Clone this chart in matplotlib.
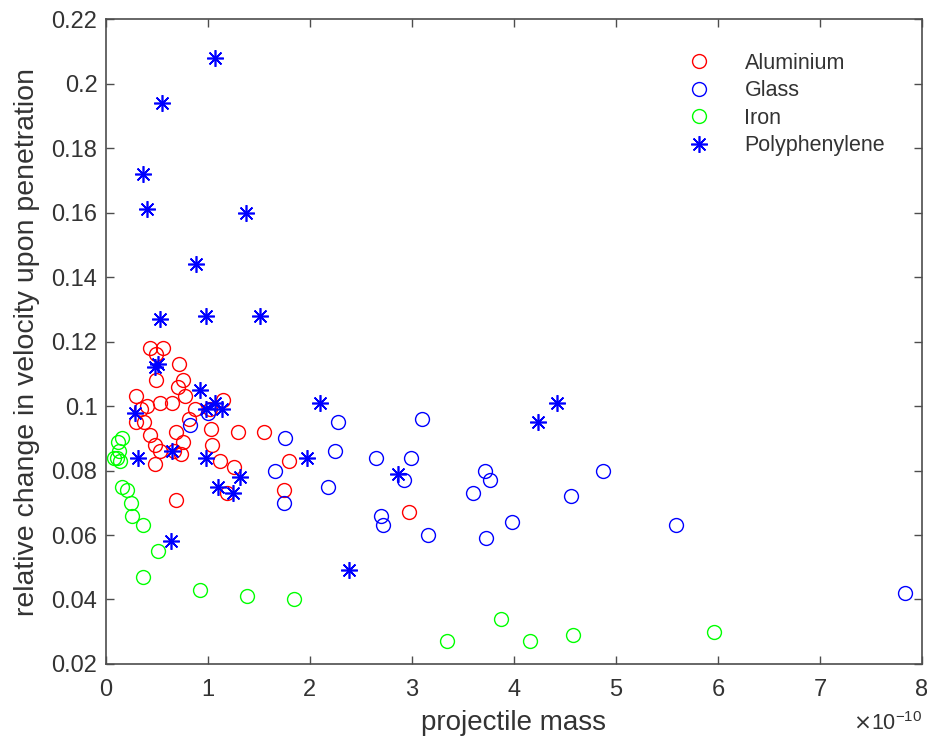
import numpy as np
import matplotlib.pyplot as plt

# projectile mass in units of 1e-10
al_mass = [0.43, 0.56, 0.49, 0.72, 0.49, 0.76, 0.71, 0.30, 0.78, 1.15, 0.53, 0.65, 0.40, 0.35,
           0.87, 1.02, 0.30, 0.37, 0.82, 0.43, 0.69, 1.03, 1.30, 1.55, 0.48, 0.76, 1.04, 0.53,
           0.67, 0.74, 0.48, 1.12, 1.26, 1.80, 0.69, 1.19, 1.75, 2.97]
al_dv = [0.118, 0.118, 0.116, 0.113, 0.108, 0.108, 0.106, 0.103, 0.103, 0.102, 0.101, 0.101,
         0.100, 0.099, 0.099, 0.099, 0.095, 0.095, 0.096, 0.091, 0.092, 0.093, 0.092, 0.092,
         0.088, 0.089, 0.088, 0.086, 0.086, 0.085, 0.082, 0.083, 0.081, 0.083, 0.071, 0.073,
         0.074, 0.067]

glass_mass = [0.83, 1.76, 1.66, 1.75, 2.18, 2.25, 2.28, 2.65, 2.70, 2.72, 2.92, 2.99, 3.10,
              3.16, 3.60, 3.72, 3.77, 3.73, 3.98, 4.56, 4.87, 5.59, 7.83, 1.00]
glass_dv = [0.094, 0.090, 0.080, 0.070, 0.075, 0.086, 0.095, 0.084, 0.066, 0.063, 0.077,
            0.084, 0.096, 0.060, 0.073, 0.080, 0.077, 0.059, 0.064, 0.072, 0.080, 0.063,
            0.042, 0.098]

iron_mass = [0.08, 0.11, 0.13, 0.16, 0.12, 0.14, 0.16, 0.21, 0.25, 0.26, 0.36, 0.51, 0.36,
             0.92, 1.38, 1.84, 3.34, 3.87, 4.16, 4.58, 5.96]
iron_dv = [0.084, 0.084, 0.086, 0.090, 0.089, 0.083, 0.075, 0.074, 0.070, 0.066, 0.063,
           0.055, 0.047, 0.043, 0.041, 0.040, 0.027, 0.034, 0.027, 0.029, 0.030]

poly_mass = [1.07, 0.55, 0.36, 0.40, 1.37, 0.88, 0.53, 0.98, 1.51, 0.48, 0.51, 0.92, 0.29,
             1.07, 1.14, 0.98, 2.10, 4.42, 4.24, 0.32, 0.65, 0.98, 1.97, 2.86, 1.32, 1.10,
             1.25, 0.64, 2.38]
poly_dv = [0.208, 0.194, 0.172, 0.161, 0.160, 0.144, 0.127, 0.128, 0.128, 0.112, 0.113,
           0.105, 0.098, 0.101, 0.099, 0.099, 0.101, 0.101, 0.095, 0.084, 0.086, 0.084,
           0.084, 0.079, 0.078, 0.075, 0.073, 0.058, 0.049]

plt.rcParams['font.family'] = ['Liberation Sans', 'DejaVu Sans']
axcol = '#4d4d4d'
txtcol = '#333333'

fig = plt.figure(figsize=(9.28, 7.41), dpi=100)
ax = fig.add_axes([0.114, 0.104, 0.8795, 0.87])

ms = 10
ax.plot(al_mass, al_dv, 'o', mfc='none', mec=(1, 0, 0), ms=ms, mew=1, label='Aluminium')
ax.plot(glass_mass, glass_dv, 'o', mfc='none', mec=(0, 0, 1), ms=ms, mew=1, label='Glass')
ax.plot(iron_mass, iron_dv, 'o', mfc='none', mec=(0, 1, 0), ms=ms, mew=1, label='Iron')
ax.plot(poly_mass, poly_dv, linestyle='none', marker=(8, 2, 0), color=(0, 0, 1), ms=12,
        mew=1.2, label='Polyphenylene')

ax.set_xlim(0, 8)
ax.set_ylim(0.02, 0.22)
ax.set_xticks(range(0, 9))
ax.set_xticklabels([str(i) for i in range(0, 9)])
yt = np.arange(0.02, 0.2201, 0.02)
ax.set_yticks(yt)
ax.set_yticklabels(['%g' % round(v, 2) for v in yt])

for s in ax.spines.values():
    s.set_color(axcol)
    s.set_linewidth(1.2)
ax.tick_params(direction='in', top=True, right=True, length=6, width=1, colors=axcol,
               labelsize=17, labelcolor=txtcol)
ax.tick_params(axis='x', pad=11)
ax.tick_params(axis='y', pad=6)

ax.set_xlabel('projectile mass', fontsize=20, color=txtcol, labelpad=6)
ax.set_ylabel('relative change in velocity upon penetration', fontsize=20.5, color=txtcol,
              labelpad=8)
ax.text(1.0, -0.074, r'$\times\mathregular{10^{-10}}$', transform=ax.transAxes,
        ha='right', va='top', fontsize=15.5, color=txtcol)

leg = ax.legend(loc='upper left', frameon=False, fontsize=15.5, bbox_to_anchor=(0.677, 0.978),
                handletextpad=1.1, labelspacing=0.3)
for t in leg.get_texts():
    t.set_color(txtcol)

fig.savefig('out.png', dpi=100)
